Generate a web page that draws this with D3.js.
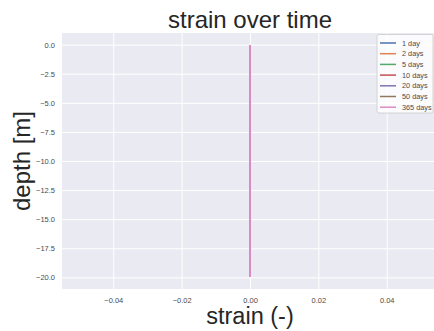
<!DOCTYPE html>
<html>
<head>
<meta charset="utf-8">
<script src="https://cdn.jsdelivr.net/npm/d3@7"></script>
<style>
  html, body { margin: 0; padding: 0; background: #ffffff; }
  svg { display: block; font-family: "Liberation Sans", Arial, sans-serif; }
</style>
</head>
<body>
<svg id="chart" width="434" height="331"></svg>
<script>
// depth profile sampled every 2 m
const depth = [0, -2, -4, -6, -8, -10, -12, -14, -16, -18, -20];

// strain at each depth, one list per time step
const strain1 = [0, 0, 0, 0, 0, 0, 0, 0, 0, 0, 0];
const strain2 = [0, 0, 0, 0, 0, 0, 0, 0, 0, 0, 0];
const strain5 = [0, 0, 0, 0, 0, 0, 0, 0, 0, 0, 0];
const strain10 = [0, 0, 0, 0, 0, 0, 0, 0, 0, 0, 0];
const strain20 = [0, 0, 0, 0, 0, 0, 0, 0, 0, 0, 0];
const strain50 = [0, 0, 0, 0, 0, 0, 0, 0, 0, 0, 0];
const strain365 = [0, 0, 0, 0, 0, 0, 0, 0, 0, 0, 0];

const seriesLabels = ["1 day", "2 days", "5 days", "10 days", "20 days", "50 days", "365 days"];
const seriesValues = [strain1, strain2, strain5, strain10, strain20, strain50, strain365];
const seriesColors = ["#4c72b0", "#dd8452", "#55a868", "#c44e52", "#8172b3", "#937860", "#da8bc3"];

const xTicks = [-0.04, -0.02, 0.00, 0.02, 0.04];
const yTicks = [0, -2.5, -5, -7.5, -10, -12.5, -15, -17.5, -20];

const svg = d3.select("#chart");
const plot = { left: 62, right: 438, top: 33, bottom: 289 };

const x = d3.scaleLinear().domain([-0.055, 0.055]).range([plot.left, plot.right]);
const y = d3.scaleLinear().domain([-21, 1]).range([plot.bottom, plot.top]);

// axes background
svg.append("rect")
  .attr("x", plot.left).attr("y", plot.top)
  .attr("width", plot.right - plot.left).attr("height", plot.bottom - plot.top)
  .attr("fill", "#eaeaf2");

// grid lines
const xAxis = d3.axisBottom(x).tickValues(xTicks)
  .tickSize(-(plot.bottom - plot.top)).tickPadding(9);
const yAxis = d3.axisLeft(y).tickValues(yTicks)
  .tickSize(-(plot.right - plot.left)).tickPadding(7);

const gx = svg.append("g").attr("transform", `translate(0,${plot.bottom})`).call(xAxis);
const gy = svg.append("g").attr("transform", `translate(${plot.left},0)`).call(yAxis);

[gx, gy].forEach(g => {
  g.select(".domain").remove();
  g.selectAll(".tick line").attr("stroke", "#ffffff").attr("stroke-width", 1);
  g.selectAll(".tick text")
    .attr("fill", "#4a4a4a")
    .style("font-size", "7.5px")
    .style("font-family", "\"Liberation Sans\", Arial, sans-serif");
});
// matplotlib-style minus sign
gx.selectAll(".tick text").text(d => d3.format(".2f")(d).replace("-", "\u2212"));
gy.selectAll(".tick text").text(d => d3.format(".1f")(d).replace("-", "\u2212"));

// strain profiles
const line = d3.line().x(d => x(d[0])).y(d => y(d[1]));
seriesValues.forEach((vals, i) => {
  svg.append("path")
    .datum(vals.map((v, j) => [v, depth[j]]))
    .attr("d", line)
    .attr("fill", "none")
    .attr("stroke", seriesColors[i])
    .attr("stroke-width", 1.5)
    .attr("shape-rendering", "crispEdges");
});

// title and axis labels
svg.append("text")
  .attr("x", (plot.left + plot.right) / 2).attr("y", 28)
  .attr("text-anchor", "middle")
  .attr("fill", "#262626")
  .style("font-size", "24px")
  .text("strain over time");

svg.append("text")
  .attr("x", (plot.left + plot.right) / 2).attr("y", 324)
  .attr("text-anchor", "middle")
  .attr("fill", "#262626")
  .style("font-size", "23.5px")
  .text("strain (-)");

svg.append("text")
  .attr("transform", `translate(30,${(plot.top + plot.bottom) / 2}) rotate(-90)`)
  .attr("text-anchor", "middle")
  .attr("fill", "#262626")
  .style("font-size", "24px")
  .text("depth [m]");

// legend
const legend = svg.append("g");
legend.append("rect")
  .attr("x", 377).attr("y", 34.5)
  .attr("width", 56).attr("height", 78.5)
  .attr("rx", 2)
  .attr("fill", "#ffffff").attr("fill-opacity", 0.8)
  .attr("stroke", "#cccccc").attr("stroke-width", 0.8);

seriesLabels.forEach((label, i) => {
  const cy = 43 + i * 10.7;
  legend.append("line")
    .attr("x1", 380).attr("x2", 396)
    .attr("y1", cy).attr("y2", cy)
    .attr("stroke", seriesColors[i]).attr("stroke-width", 1.5);
  legend.append("text")
    .attr("x", 402).attr("y", cy + 2.6)
    .attr("fill", "#4a4a4a")
    .style("font-size", "7.3px")
    .text(label);
});
</script>
</body>
</html>
